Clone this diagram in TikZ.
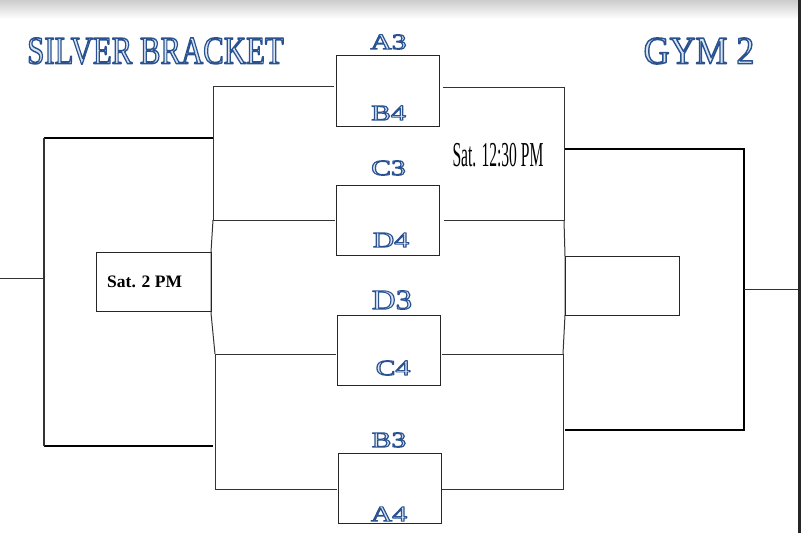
\documentclass[tikz,border=0pt]{standalone}
\usepackage{fontspec}
\setmainfont{Liberation Serif}
\usepackage{graphicx}
\newcommand{\outlined}[2][1.5]{\special{pdf:literal direct q 0.86 0.9 0.95 rg 0.16 0.32 0.57 RG #1 w 1 j 2 Tr}#2\special{pdf:literal direct Q}}
\newcommand{\teamlbl}[1]{\scalebox{1.35}[1]{\outlined[0.95]{#1}}}
\begin{document}
\begin{tikzpicture}[x=1pt,y=-1pt,
  thinline/.style={line width=1pt, draw=black!80},
  thickline/.style={line width=2.8pt, draw=black},
  matchbox/.style={draw=black!85, line width=1pt, minimum width=103pt, minimum height=71pt, inner sep=0pt, outer sep=0pt},
  team/.style={inner sep=0pt, font=\fontsize{22}{22}\selectfont},
  bigteam/.style={inner sep=0pt, font=\fontsize{28}{28}\selectfont},
  title/.style={inner sep=0pt, font=\fontsize{39}{39}\selectfont},
]
\useasboundingbox (0,0) rectangle (801,533);
\shade[top color=black!20, bottom color=white] (0,0) rectangle (798,19);
\fill[black!85] (798,0) rectangle (801,533);

% titles
\node[title] (ttl) at (155.5,51) {\scalebox{0.79}[1]{\outlined{SILVER BRACKET}}};
\node[title] (gym) at (699,51) {\scalebox{0.92}[1]{\outlined{GYM 2}}};

% match boxes
\node[matchbox] (m1) at (387.5,90.5) {};
\node[matchbox, minimum height=70pt] (m2) at (388,220) {};
\node[matchbox, minimum height=70pt] (m3) at (389,350) {};
\node[matchbox, minimum height=70pt] (m4) at (390,488) {};

% team labels
\node[team] (t1) at (388.5,42) {\teamlbl{A3}};
\node[team] (b1) at (388.5,113) {\teamlbl{B4}};
\node[team] (t2) at (388.5,168) {\teamlbl{C3}};
\node[team] (b2) at (391,240) {\teamlbl{D4}};
\node[bigteam] (t3) at (392,300) {\scalebox{1.18}[1]{\outlined[1.0]{D3}}};
\node[team] (b3) at (393,368) {\teamlbl{C4}};
\node[team] (t4) at (389,440) {\teamlbl{B3}};
\node[team] (b4) at (389,514) {\teamlbl{A4}};

% bracket corners
\coordinate (L1) at (213,86);
\coordinate (L2) at (213,220);
\coordinate (L3) at (215,354);
\coordinate (L4) at (215,489);
\coordinate (R1) at (564,87);
\coordinate (R2) at (564,220);
\coordinate (R3) at (563,354);
\coordinate (R4) at (563,489);

% left first-round brackets
\draw[thinline, shorten <=2pt] (m1.west |- L1) -- (L1) -- (L2) -- ([xshift=-2pt]m2.west |- L2);
\draw[thinline, shorten <=2pt] (m3.west |- L3) -- (L3) -- (L4) -- ([xshift=-2pt]m4.west |- L4);
\draw[thinline] (L2) -- (211,252) -- (211,313) -- (L3);
% right first-round brackets
\draw[thinline, shorten <=4pt] (m1.east |- R1) -- (R1) -- (R2) -- ([xshift=4pt]m2.east |- R2);
\draw[thinline, shorten <=1pt] (m3.east |- R3) -- (R3) -- (R4) -- (m4.east |- R4);
\draw[thinline] (R2) -- (565,256) -- (565,315) -- (R3);

% semifinal boxes
\node[draw=black!85, line width=1pt, minimum width=115pt, minimum height=59pt, inner sep=0pt] (lbox) at (153.5,281.5) {};
\node[anchor=west, inner sep=0pt, font=\fontsize{17.5}{17.5}\selectfont\bfseries] (lbt) at (107,282) {Sat. 2 PM};
\node[draw=black!85, line width=1pt, minimum width=114pt, minimum height=59pt, inner sep=0pt] (rbox) at (622,285.5) {};
\node[inner sep=0pt, font=\fontsize{35}{35}\selectfont] (rbt) at (498,155) {\scalebox{0.445}[1]{Sat. 12:30 PM}};

% outer left bracket
\coordinate (OL1) at (44,138);
\coordinate (OL2) at (44,446);
\coordinate (OL0) at (44,278);
\coordinate (E0) at (0,278);
\draw[thickline] (L1 |- OL1) -- (OL1);
\draw[thickline] (OL2) -- (L1 |- OL2);
\draw[thinline, line width=1.4pt] (OL1) -- (OL2);
\draw[thinline] (E0) -- (OL0);

% outer right bracket
\coordinate (OR1) at (744,149);
\coordinate (OR2) at (744,430);
\coordinate (OR0) at (744,289);
\coordinate (E1) at (798,289);
\draw[thickline] (565,149) -- (OR1) -- (OR2) -- (565,430);
\draw[thinline] (OR0) -- (E1);
\end{tikzpicture}
\end{document}
